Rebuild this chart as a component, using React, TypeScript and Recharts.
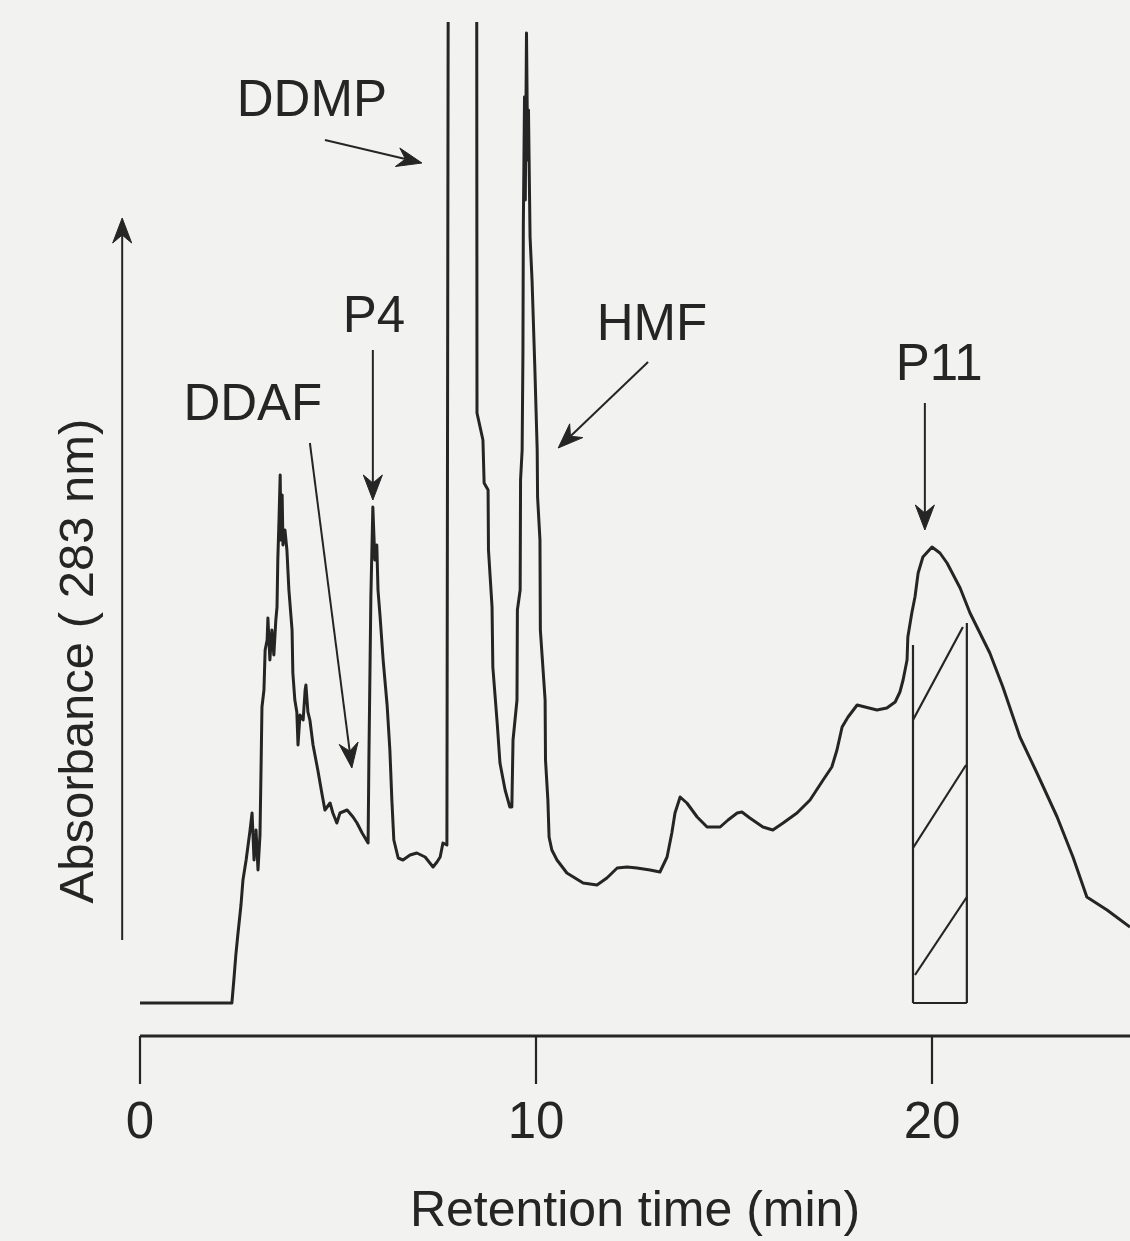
import React from 'react';
import { LineChart, Line, XAxis, YAxis, ReferenceLine, ReferenceDot } from 'recharts';

// HPLC trace, absorbance at 283 nm vs retention time (min)
const retentionTime = [
  0.0, 2.32, 2.37, 2.42, 2.47, 2.55, 2.6, 2.68, 2.73, 2.78, 2.83, 2.88, 2.93, 2.98, 3.03, 3.06, 3.08, 3.13,
  3.16, 3.21, 3.23, 3.28, 3.33, 3.38, 3.43, 3.46, 3.48, 3.51, 3.54, 3.56, 3.59, 3.61, 3.66, 3.71, 3.76, 3.84,
  3.86, 3.91, 3.96, 3.99, 4.04, 4.12, 4.17, 4.19, 4.24, 4.29, 4.37, 4.49, 4.6, 4.67, 4.8, 4.87, 4.97, 5.05,
  5.23, 5.38, 5.48, 5.61, 5.76, 5.78, 5.83, 5.88, 5.93, 5.98, 6.01, 6.06, 6.14, 6.24, 6.31, 6.36, 6.41, 6.52,
  6.64, 6.82, 6.99, 7.2, 7.4, 7.5, 7.58, 7.65, 7.75, 7.79, 8.5, 8.51, 8.66, 8.69, 8.79, 8.8, 8.89, 8.91,
  9.02, 9.09, 9.22, 9.34, 9.39, 9.42, 9.52, 9.53, 9.6, 9.61, 9.65, 9.67, 9.68, 9.71, 9.73, 9.76, 9.79, 9.81,
  9.85, 9.9, 9.97, 10.03, 10.04, 10.1, 10.11, 10.23, 10.24, 10.3, 10.33, 10.4, 10.53, 10.78, 11.19, 11.54,
  11.79, 12.05, 12.3, 12.55, 12.88, 13.13, 13.31, 13.43, 13.51, 13.64, 13.81, 14.07, 14.32, 14.65, 14.85,
  15.08, 15.2, 15.4, 15.73, 15.98, 16.24, 16.59, 16.92, 17.25, 17.47, 17.6, 17.73, 17.88, 18.11, 18.31,
  18.61, 18.86, 19.07, 19.19, 19.27, 19.37, 19.39, 19.49, 19.57, 19.65, 19.77, 20.0, 20.2, 20.38, 20.71,
  20.96, 21.46, 21.79, 22.22, 22.65, 23.16, 23.56, 23.91, 24.42, 25.0,
];

const absorbance = [
  0.0, 0.0, 0.23, 0.48, 0.68, 0.98, 1.23, 1.43, 1.58, 1.73, 1.9, 1.43, 1.73, 1.33, 1.68, 2.43, 2.96, 3.13,
  3.53, 3.63, 3.85, 3.43, 3.73, 3.48, 3.83, 3.96, 4.43, 4.83, 5.28, 4.63, 5.08, 4.58, 4.73, 4.53, 4.13, 3.73,
  3.3, 3.03, 2.91, 2.58, 2.88, 2.83, 3.13, 3.18, 2.91, 2.83, 2.58, 2.33, 2.08, 1.93, 2.0, 1.9, 1.8, 1.9,
  1.93, 1.86, 1.8, 1.7, 1.6, 2.43, 4.06, 4.96, 4.43, 4.58, 4.13, 3.88, 3.43, 2.98, 2.53, 2.03, 1.63, 1.45,
  1.43, 1.48, 1.5, 1.46, 1.36, 1.41, 1.46, 1.6, 1.58, 12.0, 12.0, 5.9, 5.63, 5.2, 5.13, 4.53, 3.96, 3.36,
  2.8, 2.4, 2.13, 1.96, 1.96, 2.63, 3.03, 3.93, 4.13, 5.23, 5.53, 6.5, 7.76, 9.06, 8.03, 9.7, 8.43, 8.93,
  7.66, 7.23, 6.36, 5.53, 5.06, 4.63, 3.73, 3.03, 2.43, 2.03, 1.66, 1.53, 1.43, 1.3, 1.2, 1.18,
  1.25, 1.35, 1.36, 1.35, 1.33, 1.31, 1.46, 1.7, 1.9, 2.06, 2.0, 1.86, 1.76, 1.76, 1.83,
  1.9, 1.91, 1.85, 1.76, 1.73, 1.8, 1.9, 2.03, 2.23, 2.36, 2.53, 2.76, 2.86, 2.98, 2.96,
  2.93, 2.95, 3.01, 3.11, 3.23, 3.43, 3.66, 3.9, 4.06, 4.3, 4.46, 4.56, 4.5, 4.4, 4.15,
  3.9, 3.5, 3.16, 2.66, 2.3, 1.86, 1.46, 1.06, 0.93, 0.76,
];

const timeTicks = [0, 10, 20];

// peak names: [text, time, absorbance of baseline of text]
const peakLabels: [string, number, number][] = [
  ['DDMP', 4.34, 8.87],
  ['P4', 5.91, 6.71],
  ['DDAF', 2.85, 5.83],
  ['HMF', 12.93, 6.63],
  ['P11', 20.18, 6.23],
];

// pointer arrows: [t1, a1, t2, a2], head at the second end
const pointers: [number, number, number, number][] = [
  [4.67, 8.63, 7.12, 8.4],
  [5.88, 6.53, 5.88, 5.03],
  [4.29, 5.6, 5.35, 2.35],
  [12.83, 6.41, 10.56, 5.55],
  [19.82, 6.0, 19.82, 4.73],
  [-0.45, 0.63, -0.45, 7.85],
];

// collected P11 fraction: outline and hatching
const fractionEdges: [number, number, number, number][] = [
  [19.52, 0, 19.52, 3.58],
  [19.52, 0, 20.88, 0],
  [20.88, 0, 20.88, 3.8],
  [19.52, 2.83, 20.78, 3.76],
  [19.52, 1.55, 20.86, 2.38],
  [19.57, 0.28, 20.88, 1.06],
];

const trace = retentionTime.map((t, i) => ({ t, a: absorbance[i] }));

const INK = '#252525';
const FONT = '"Liberation Sans", Arial, Helvetica, sans-serif';

const ArrowShape = (props: any) => {
  const { x1, y1, x2, y2 } = props;
  const dx = x2 - x1;
  const dy = y2 - y1;
  const len = Math.sqrt(dx * dx + dy * dy) || 1;
  const ux = dx / len;
  const uy = dy / len;
  const nx = -uy;
  const ny = ux;
  const L = 25;
  const W = 9.5;
  const bx = x2 - L * ux;
  const by = y2 - L * uy;
  const mx = x2 - (L - 8) * ux;
  const my = y2 - (L - 8) * uy;
  const head = `M${x2},${y2} L${bx + W * nx},${by + W * ny} L${mx},${my} L${bx - W * nx},${by - W * ny} Z`;
  return (
    <g>
      <line x1={x1} y1={y1} x2={mx} y2={my} stroke={INK} strokeWidth={2} />
      <path d={head} fill={INK} stroke={INK} strokeWidth={1} strokeLinejoin="miter" />
    </g>
  );
};

const labelShape = (text: string, rotate = false) => (props: any) => {
  const { cx, cy } = props;
  return (
    <text
      x={cx}
      y={cy}
      textAnchor="middle"
      fontSize={rotate ? 49 : 51}
      fontFamily={FONT}
      fill={INK}
      transform={rotate ? `rotate(-90 ${cx} ${cy})` : undefined}
    >
      {text}
    </text>
  );
};

export default function App() {
  return (
    <div style={{ position: 'absolute', left: 0, top: 0, width: 1130, height: 1241, background: '#f2f2f0' }}>
      <LineChart width={1130} height={1241} data={trace} margin={{ top: 22, right: 0, bottom: 0, left: 140 }}>
        <XAxis
          type="number"
          dataKey="t"
          domain={[0, 25]}
          ticks={timeTicks}
          tickSize={48}
          tickMargin={18}
          height={205}
          axisLine={{ stroke: INK, strokeWidth: 2.8 }}
          tickLine={{ stroke: INK, strokeWidth: 2.2 }}
          tick={{ fontSize: 51, fill: INK, fontFamily: FONT }}
          label={{ value: 'Retention time (min)', position: 'insideBottom', offset: 15, fontSize: 50, fill: INK, fontFamily: FONT }}
        />
        <YAxis hide type="number" domain={[-0.33, 9.81]} allowDataOverflow />

        {fractionEdges.map(([t1, a1, t2, a2], i) => (
          <ReferenceLine
            key={`f${i}`}
            segment={[{ x: t1, y: a1 }, { x: t2, y: a2 }]}
            stroke={INK}
            strokeWidth={2.2}
            ifOverflow="visible"
          />
        ))}

        <Line
          type="linear"
          dataKey="a"
          stroke={INK}
          strokeWidth={3}
          dot={false}
          strokeLinejoin="round"
          isAnimationActive={false}
        />

        {pointers.map(([t1, a1, t2, a2], i) => (
          <ReferenceLine
            key={`p${i}`}
            segment={[{ x: t1, y: a1 }, { x: t2, y: a2 }]}
            ifOverflow="visible"
            shape={ArrowShape}
          />
        ))}

        {peakLabels.map(([text, t, a]) => (
          <ReferenceDot key={text} x={t} y={a} ifOverflow="visible" shape={labelShape(text)} />
        ))}
        <ReferenceDot x={-1.19} y={3.42} ifOverflow="visible" shape={labelShape('Absorbance ( 283 nm)', true)} />
      </LineChart>
    </div>
  );
}
